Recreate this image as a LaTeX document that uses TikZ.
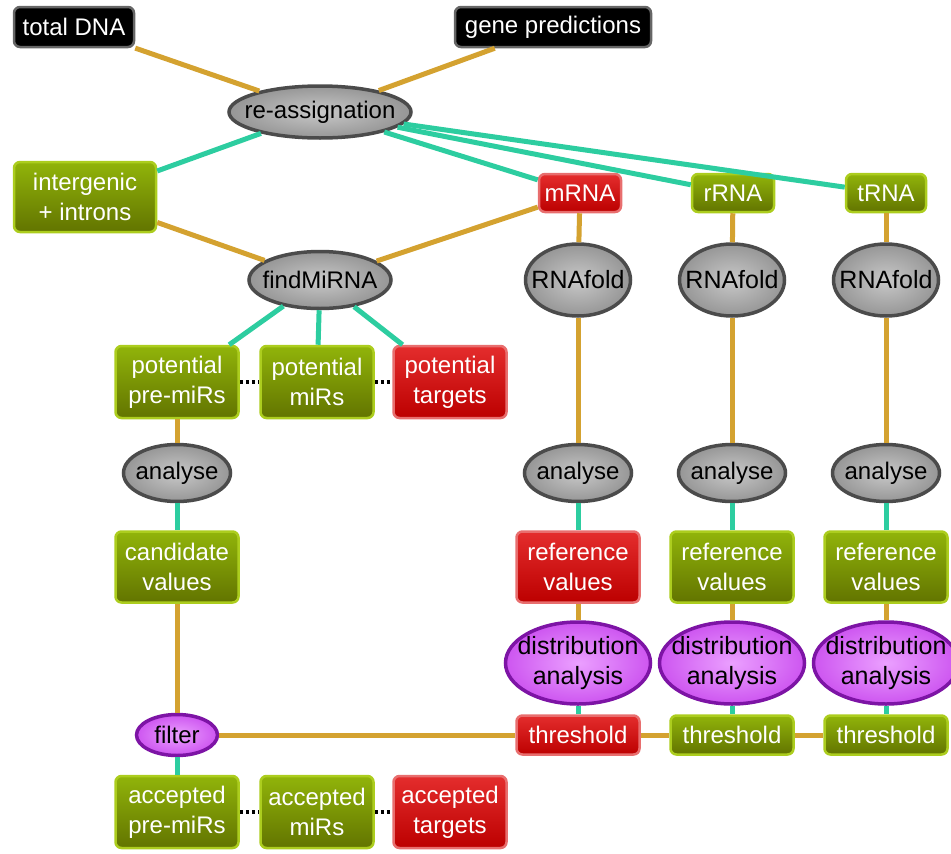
\documentclass[tikz,border=0pt]{standalone}
\usepackage{fontspec}
\setmainfont{Liberation Sans}
\usetikzlibrary{shapes.geometric}
\definecolor{goldline}{RGB}{212,162,48}
\definecolor{tealline}{RGB}{45,205,160}
\definecolor{greentop}{RGB}{145,180,10}
\definecolor{greenbot}{RGB}{98,116,0}
\definecolor{greenedge}{RGB}{172,205,30}
\definecolor{redtop}{RGB}{228,45,45}
\definecolor{redbot}{RGB}{188,0,0}
\definecolor{rededge}{RGB}{232,110,110}
\definecolor{grayin}{RGB}{200,200,200}
\definecolor{grayout}{RGB}{150,150,150}
\definecolor{grayedge}{RGB}{75,75,75}
\definecolor{purplein}{RGB}{235,160,255}
\definecolor{purpleout}{RGB}{205,85,240}
\definecolor{purpleedge}{RGB}{125,20,165}
\tikzset{
  box/.style={rectangle,rounded corners=6pt,line width=2.5pt,inner sep=2pt,
    align=center,text=white,font=\fontsize{24}{30}\selectfont},
  greenbox/.style={box,draw=greenedge,top color=greentop,bottom color=greenbot},
  redbox/.style={box,draw=rededge,top color=redtop,bottom color=redbot},
  blackbox/.style={box,draw=black!60,fill=black},
  oval/.style={ellipse,line width=3.5pt,inner xsep=-15pt,inner ysep=-2pt,align=center,
    font=\fontsize{24}{30}\selectfont},
  grayoval/.style={oval,draw=grayedge,inner color=grayin,outer color=grayout},
  purpleoval/.style={oval,draw=purpleedge,inner color=purplein,outer color=purpleout},
  gold/.style={draw=goldline,line width=5pt},
  teal/.style={draw=tealline,line width=5pt},
  dots/.style={draw=black,line width=3.5pt,dash pattern=on 3pt off 3pt}
}
\begin{document}
\begin{tikzpicture}[x=1pt,y=-1pt]
\useasboundingbox (0,0) rectangle (951,854);
% top row
\node[blackbox,minimum width=120,minimum height=40] (dna) at (74,27) {total DNA};
\node[blackbox,minimum width=196,minimum height=40] (genes) at (553,27) {gene predictions};
\node[grayoval,minimum width=182,minimum height=52] (reass) at (320,112) {re-assignation};
% partitions
\node[greenbox,minimum width=142,minimum height=70] (inter) at (85,197) {intergenic\\+ introns};
\node[redbox,minimum width=82,minimum height=38] (mrna) at (580,193) {mRNA};
\node[greenbox,minimum width=82,minimum height=38] (rrna) at (733,193) {rRNA};
\node[greenbox,minimum width=80,minimum height=38] (trna) at (886,193) {tRNA};
\node[grayoval,minimum width=142,minimum height=57] (find) at (320,280) {findMiRNA};
\node[grayoval,minimum width=105,minimum height=72,font=\fontsize{25}{30}\selectfont] (foldm) at (578,280) {RNAfold};
\node[grayoval,minimum width=105,minimum height=72,font=\fontsize{25}{30}\selectfont] (foldr) at (732,280) {RNAfold};
\node[grayoval,minimum width=105,minimum height=72,font=\fontsize{25}{30}\selectfont] (foldt) at (886,280) {RNAfold};
% potential
\node[greenbox,minimum width=123,minimum height=72] (potpre) at (177,382) {potential\\pre-miRs};
\node[greenbox,minimum width=113,minimum height=72] (potmir) at (317,382) {potential\\miRs};
\node[redbox,minimum width=113,minimum height=72] (pottar) at (450,382) {potential\\targets};
% analyse
\node[grayoval,minimum width=107,minimum height=57] (anc) at (177,473) {analyse};
\node[grayoval,minimum width=107,minimum height=57] (anm) at (578,473) {analyse};
\node[grayoval,minimum width=107,minimum height=57] (anr) at (732,473) {analyse};
\node[grayoval,minimum width=107,minimum height=57] (ant) at (886,473) {analyse};
% values
\node[greenbox,minimum width=123,minimum height=71] (cand) at (177,567) {candidate\\values};
\node[redbox,minimum width=123,minimum height=71] (refm) at (578,567) {reference\\values};
\node[greenbox,minimum width=123,minimum height=71] (refr) at (732,567) {reference\\values};
\node[greenbox,minimum width=123,minimum height=71] (reft) at (886,567) {reference\\values};
\node[purpleoval,minimum width=145,minimum height=82,font=\fontsize{25}{30}\selectfont] (distm) at (578,663) {distribution\\analysis};
\node[purpleoval,minimum width=145,minimum height=82,font=\fontsize{25}{30}\selectfont] (distr) at (732,663) {distribution\\analysis};
\node[purpleoval,minimum width=145,minimum height=82,font=\fontsize{25}{30}\selectfont] (distt) at (886,663) {distribution\\analysis};
% threshold row
\node[purpleoval,minimum width=81,minimum height=41] (filter) at (177,735) {filter};
\node[redbox,minimum width=123,minimum height=39] (thrm) at (578,735) {threshold};
\node[greenbox,minimum width=123,minimum height=39] (thrr) at (732,735) {threshold};
\node[greenbox,minimum width=123,minimum height=39] (thrt) at (886,735) {threshold};
% accepted
\node[greenbox,minimum width=123,minimum height=72] (accpre) at (177,812) {accepted\\pre-miRs};
\node[greenbox,minimum width=113,minimum height=72] (accmir) at (317,812) {accepted\\miRs};
\node[redbox,minimum width=113,minimum height=72] (acctar) at (450,812) {accepted\\targets};
% connectors
\draw[gold] (dna)--(reass);
\draw[gold] (genes)--(reass);
\draw[teal] (reass)--(inter);
\foreach \p in {mrna,rrna,trna}
	\draw[teal] (reass)--(\p);
\draw[gold] (inter)--(find);
\draw[gold] (mrna)--(find);
\draw[gold] (mrna)--(foldm);
\draw[gold] (rrna)--(foldr);
\draw[gold] (trna)--(foldt);
\foreach \p in {potpre,potmir,pottar}
	\draw[teal] (find)--(\p);
\draw[dots] (potpre)--(potmir);
\draw[dots] (potmir)--(pottar);
\draw[gold] (potpre)--(anc);
\draw[teal] (anc)--(cand);
\draw[gold] (cand)--(filter);
\draw[gold] (foldm)--(anm);
\draw[gold] (foldr)--(anr);
\draw[gold] (foldt)--(ant);
\draw[teal] (anm)--(refm);
\draw[teal] (anr)--(refr);
\draw[teal] (ant)--(reft);
\draw[gold] (refm)--(distm);
\draw[gold] (refr)--(distr);
\draw[gold] (reft)--(distt);
\draw[teal] (distm)--(thrm);
\draw[teal] (distr)--(thrr);
\draw[teal] (distt)--(thrt);
\draw[gold] (filter)--(thrm);
\draw[gold] (thrm)--(thrr);
\draw[gold] (thrr)--(thrt);
\draw[teal] (filter)--(accpre);
\draw[dots] (accpre)--(accmir);
\draw[dots] (accmir)--(acctar);
\end{tikzpicture}
\end{document}
